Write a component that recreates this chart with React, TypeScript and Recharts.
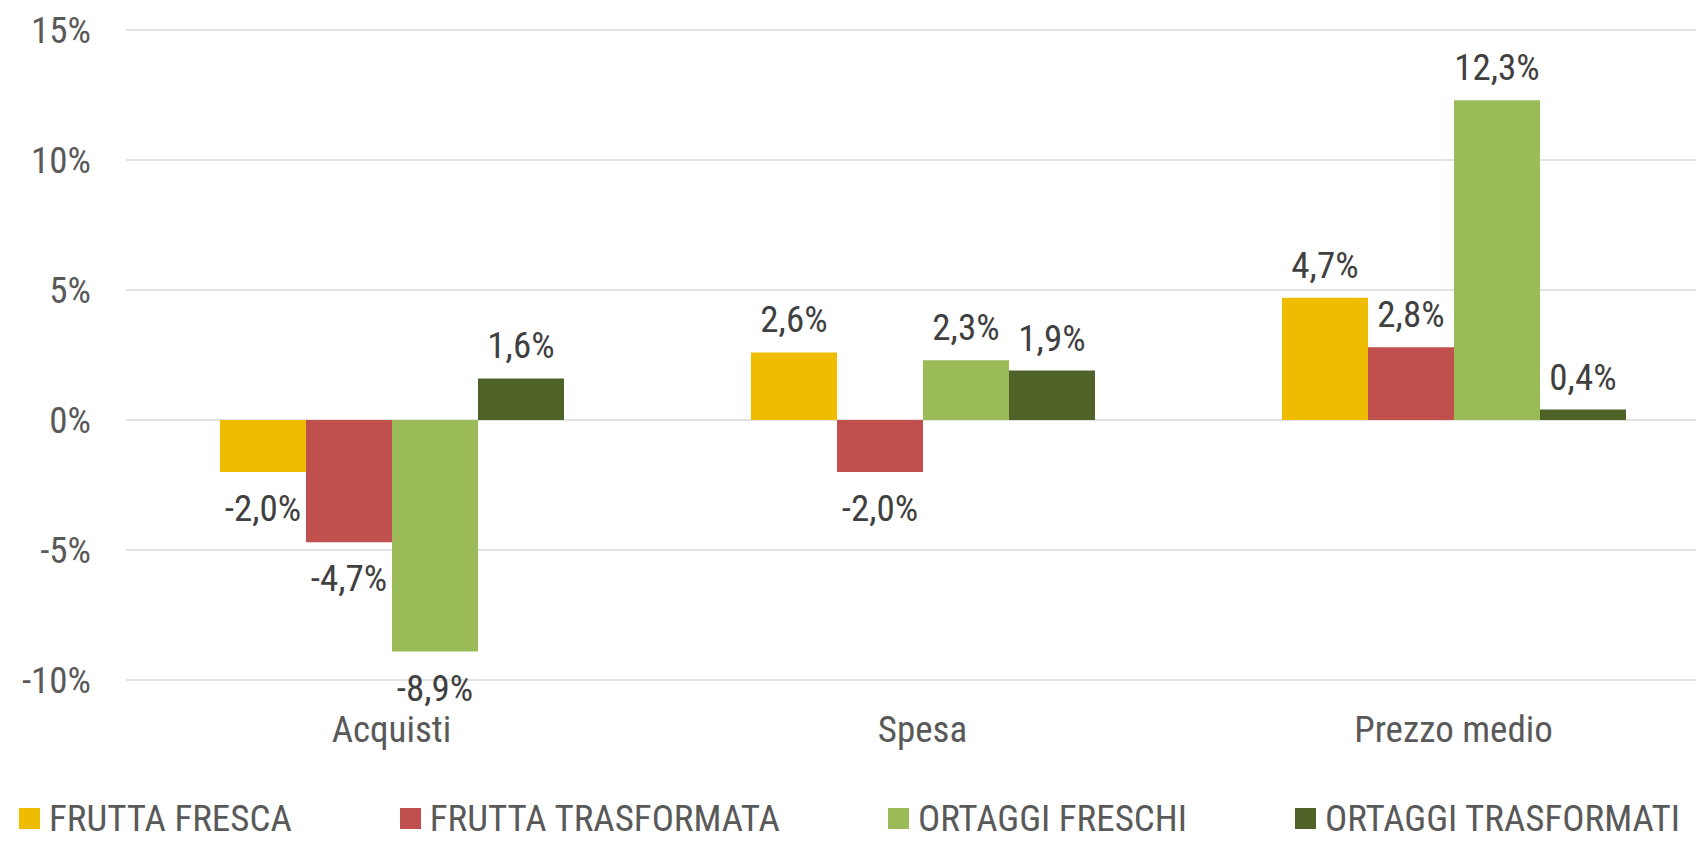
import React from 'react';
import { BarChart, Bar, XAxis, YAxis, CartesianGrid, Legend, LabelList } from 'recharts';

const categories = ['Acquisti', 'Spesa', 'Prezzo medio'];
const fruttaFresca = [-2.0, 2.6, 4.7];
const fruttaTrasformata = [-4.7, -2.0, 2.8];
const ortaggiFreschi = [-8.9, 2.3, 12.3];
const ortaggiTrasformati = [1.6, 1.9, 0.4];
const yTicks = [-10, -5, 0, 5, 10, 15];

const SERIES = [
  { key: 'ff', name: 'FRUTTA FRESCA', values: fruttaFresca, color: '#EFBD00' },
  { key: 'ft', name: 'FRUTTA TRASFORMATA', values: fruttaTrasformata, color: '#C0504D' },
  { key: 'of', name: 'ORTAGGI FRESCHI', values: ortaggiFreschi, color: '#9BBB59' },
  { key: 'ot', name: 'ORTAGGI TRASFORMATI', values: ortaggiTrasformati, color: '#4F6228' },
];

const FONT = "'Liberation Sans Narrow', 'Arial Narrow', 'Roboto Condensed', sans-serif";
const FONT_SIZE = 37;

const data = categories.map((name, i) => {
  const row: Record<string, string | number> = { name };
  SERIES.forEach(s => { row[s.key] = s.values[i]; });
  return row;
});

const fmt = (v: number) => `${v.toFixed(1).replace('.', ',')}%`;

// label above positive bars, below negative ones (Excel "outside end")
const renderLabel = (props: any) => {
  const { x, y, width, height, value } = props;
  const top = Math.min(y, y + height);
  const bottom = Math.max(y, y + height);
  const cx = x + width / 2;
  if (value >= 0) {
    return (
      <text x={cx} y={top - 20} textAnchor="middle" fill="#404040" fontSize={FONT_SIZE} fontFamily={FONT}>
        {fmt(value)}
      </text>
    );
  }
  return (
    <text x={cx} y={bottom + 23} dy="0.71em" textAnchor="middle" fill="#404040" fontSize={FONT_SIZE} fontFamily={FONT}>
      {fmt(value)}
    </text>
  );
};

const renderLegend = () => (
  <div
    style={{
      display: 'flex',
      justifyContent: 'space-between',
      alignItems: 'center',
      width: 1661,
      fontFamily: FONT,
      fontSize: FONT_SIZE,
      lineHeight: 1,
      color: '#595959',
    }}
  >
    {SERIES.map(s => (
      <div key={s.key} style={{ display: 'flex', alignItems: 'center' }}>
        <span style={{ width: 21, height: 21, background: s.color, marginRight: 9, display: 'inline-block' }} />
        <span style={{ whiteSpace: 'nowrap' }}>{s.name}</span>
      </div>
    ))}
  </div>
);

export default function App() {
  return (
    <div style={{ position: 'fixed', left: 0, top: 0, width: 1696, height: 841, overflow: 'hidden', background: '#fff' }}>
      <BarChart
        width={1719}
        height={841}
        data={data}
        margin={{ top: 30, right: 0, bottom: 0, left: 0 }}
        barCategoryGap="17.7%"
        barGap={0}
      >
        <CartesianGrid vertical={false} stroke="#d9d9d9" strokeWidth={1.5} />
        <XAxis
          dataKey="name"
          axisLine={false}
          tickLine={false}
          tickSize={0}
          tickMargin={36}
          height={161}
          tick={{ fill: '#595959', fontSize: FONT_SIZE, fontFamily: FONT }}
        />
        <YAxis
          domain={[-10, 15]}
          ticks={yTicks}
          tickFormatter={(v: number) => `${v}%`}
          axisLine={false}
          tickLine={false}
          tickSize={0}
          tickMargin={35}
          width={126}
          tick={{ fill: '#595959', fontSize: FONT_SIZE, fontFamily: FONT }}
        />
        <Legend
          layout="horizontal"
          verticalAlign="middle"
          align="center"
          content={renderLegend}
          wrapperStyle={{ left: 19, top: 800, width: 1661 }}
        />
        {SERIES.map(s => (
          <Bar key={s.key} dataKey={s.key} name={s.name} fill={s.color} isAnimationActive={false}>
            <LabelList dataKey={s.key} content={renderLabel} />
          </Bar>
        ))}
      </BarChart>
    </div>
  );
}
